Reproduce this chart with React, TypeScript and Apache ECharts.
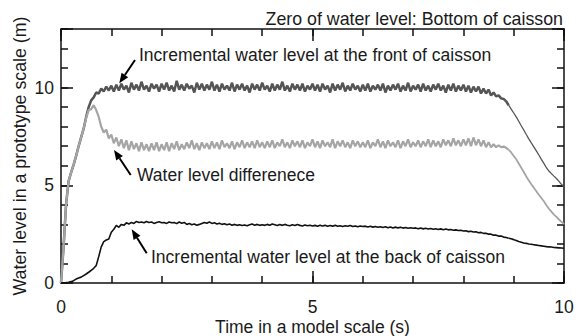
import React, { useEffect, useRef } from "react";
import * as echarts from "echarts";

// Sampling step of the digitised records (s)
const TIME_STEP = 0.05;
// Time after which the records become smooth (s)
const SMOOTH_FROM = 8.9;

// Incremental water level at the front of caisson (m), t = 0 .. 10 s
const frontLevel = [
  0, 1.8, 4.0, 5.2, 5.65, 6.05, 6.5, 7.0, 7.45, 7.9, 8.5, 9.0, 9.35, 9.5, 9.75, 9.7, 9.95, 9.8, 10.05, 9.85, 10.1,
  9.8, 10.15, 9.85, 10.2, 9.9, 10.1, 9.75, 10.25, 9.9, 10.15, 9.85, 10.3, 9.9, 10.1, 9.8, 10.2, 9.95, 10.15, 9.8, 10.2,
  9.9, 10.25, 9.85, 10.1, 9.8, 10.35, 9.9, 10.15, 9.85, 10.2, 9.95, 10.1, 9.75, 10.25, 9.9, 10.2, 9.85, 10.15, 9.9, 10.3,
  9.85, 10.15, 9.8, 10.2, 9.9, 10.1, 9.85, 10.25, 9.8, 10.15, 9.9, 10.2, 9.85, 10.1, 9.75, 10.2, 9.9, 10.15, 9.85, 10.25,
  9.9, 10.1, 9.8, 10.2, 9.85, 10.15, 9.9, 10.3, 9.85, 10.1, 9.8, 10.2, 9.9, 10.15, 9.85, 10.2, 9.8, 10.1, 9.9, 10.2,
  9.85, 10.15, 9.8, 10.2, 9.9, 10.1, 9.75, 10.2, 9.85, 10.15, 9.9, 10.25, 9.8, 10.1, 9.85, 10.2, 9.9, 10.1, 9.8, 10.15,
  9.85, 10.2, 9.8, 10.1, 9.9, 10.15, 9.85, 10.2, 9.75, 10.1, 9.85, 10.15, 9.9, 10.2, 9.8, 10.1, 9.85, 10.25, 9.8, 10.1,
  9.9, 10.15, 9.8, 10.2, 9.85, 10.1, 9.8, 10.15, 9.9, 10.2, 9.85, 10.1, 9.75, 10.15, 9.85, 10.2, 9.8, 10.1, 9.85, 10.15,
  9.8, 10.1, 9.75, 10.05, 9.8, 10.05, 9.7, 9.95, 9.7, 9.9, 9.6, 9.75, 9.55, 9.6, 9.45, 9.42, 9.3, 9.1, 8.9, 8.7,
  8.5, 8.28, 8.05, 7.83, 7.6, 7.38, 7.17, 6.97, 6.76, 6.55, 6.33, 6.12, 5.9, 5.73, 5.6, 5.47, 5.35, 5.2, 5.05, 4.92,
];

// Water level difference (m)
const differenceLevel = [
  0, 1.8, 4.0, 5.2, 5.65, 6.05, 6.5, 7.0, 7.45, 7.9, 8.45, 8.85, 8.9, 9.1, 8.85, 8.5, 8.0, 7.7, 7.85, 7.4, 7.6,
  7.15, 7.45, 7.0, 7.35, 6.9, 7.3, 6.8, 7.25, 6.85, 7.15, 6.75, 7.2, 6.8, 7.1, 6.75, 7.15, 6.8, 7.2, 6.75, 7.1,
  6.8, 7.2, 6.75, 7.15, 6.85, 7.25, 6.8, 7.1, 6.85, 7.2, 6.9, 7.3, 6.85, 7.15, 6.8, 7.2, 6.9, 7.15, 6.85, 7.25,
  6.9, 7.2, 6.85, 7.3, 6.95, 7.15, 6.9, 7.25, 6.85, 7.2, 6.95, 7.3, 6.9, 7.2, 6.95, 7.25, 6.9, 7.3, 6.95, 7.2,
  6.9, 7.25, 6.95, 7.3, 6.9, 7.2, 7.0, 7.35, 6.95, 7.2, 6.9, 7.3, 7.0, 7.25, 6.95, 7.3, 6.9, 7.2, 7.0, 7.35,
  6.95, 7.25, 6.9, 7.3, 7.0, 7.2, 6.95, 7.35, 6.9, 7.25, 7.0, 7.3, 6.95, 7.2, 6.9, 7.3, 7.0, 7.25, 6.95, 7.2,
  6.95, 7.3, 6.9, 7.2, 7.0, 7.35, 6.95, 7.25, 6.9, 7.3, 7.0, 7.2, 6.95, 7.3, 6.9, 7.25, 7.0, 7.35, 6.95, 7.2,
  7.0, 7.3, 6.95, 7.25, 7.0, 7.35, 6.95, 7.3, 7.0, 7.25, 6.95, 7.35, 7.05, 7.3, 7.0, 7.4, 7.05, 7.3, 7.0, 7.35,
  7.05, 7.4, 7.0, 7.45, 7.05, 7.35, 7.0, 7.3, 6.95, 7.2, 6.95, 7.1, 6.95, 7.05, 6.95, 6.98, 6.92, 6.82, 6.68, 6.5,
  6.33, 6.12, 5.9, 5.68, 5.45, 5.25, 5.05, 4.88, 4.7, 4.52, 4.35, 4.18, 3.98, 3.8, 3.65, 3.5, 3.38, 3.25, 3.13, 3.02,
];

// Incremental water level at the back of caisson (m)
const backLevel = [
  0, 0.01, 0.02, 0.04, 0.07, 0.12, 0.2, 0.26, 0.3, 0.38, 0.46, 0.55, 0.65, 0.75, 0.9, 1.35, 1.85, 2.12, 2.2, 2.25, 2.6,
  2.75, 2.95, 2.85, 3.0, 2.95, 3.08, 3.02, 3.1, 3.05, 3.15, 3.1, 3.12, 3.08, 3.15, 3.1, 3.12, 3.05, 3.1, 3.13, 3.08,
  3.1, 3.05, 3.12, 3.08, 3.1, 3.04, 3.12, 3.06, 3.1, 3.0, 3.05, 2.98, 3.02, 2.96, 3.0, 3.05, 3.1, 3.06, 3.12, 3.05,
  3.08, 3.02, 3.06, 3.0, 3.03, 2.98, 3.02, 2.96, 3.0, 2.95, 2.98, 2.94, 2.97, 2.93, 2.98, 3.02, 2.96, 3.0, 2.95, 2.98,
  2.95, 3.0, 2.96, 3.02, 2.98, 2.94, 2.99, 2.95, 3.0, 2.96, 2.93, 2.98, 2.94, 2.99, 2.95, 2.92, 2.97, 2.93, 2.96, 2.92,
  2.95, 2.91, 2.96, 2.92, 2.95, 2.9, 2.94, 2.91, 2.95, 2.9, 2.93, 2.89, 2.93, 2.9, 2.94, 2.89, 2.92, 2.88, 2.92, 2.89,
  2.91, 2.87, 2.9, 2.86, 2.89, 2.85, 2.88, 2.84, 2.88, 2.83, 2.87, 2.82, 2.86, 2.82, 2.85, 2.81, 2.84, 2.8, 2.83, 2.8,
  2.82, 2.78, 2.81, 2.77, 2.8, 2.76, 2.79, 2.75, 2.78, 2.74, 2.77, 2.73, 2.76, 2.72, 2.74, 2.7, 2.72, 2.69, 2.7, 2.66,
  2.67, 2.63, 2.65, 2.61, 2.62, 2.57, 2.59, 2.54, 2.55, 2.5, 2.5, 2.45, 2.45, 2.4, 2.4, 2.35, 2.33, 2.29, 2.26, 2.22,
  2.17, 2.12, 2.09, 2.05, 2.03, 2.0, 1.98, 1.96, 1.94, 1.92, 1.9, 1.88, 1.86, 1.85, 1.84, 1.82, 1.81, 1.8, 1.79, 1.78,
];

const time = frontLevel.map((_, i) => Number((i * TIME_STEP).toFixed(2)));

const xLabelValues = [0, 5, 10];
const yLabelValues = [0, 5, 10];

const xTitle = "Time in a model scale (s)";
const yTitle = "Water level in a prototype scale (m)";
const topNote = "Zero of water level: Bottom of caisson";
const frontNote = "Incremental water level at the front of caisson";
const diffNote = "Water level differenece";
const backNote = "Incremental water level at the back of caisson";

const FONT = "'Liberation Sans', Arial, Helvetica, sans-serif";
const INK = "#1a1a1a";

function arrow(tail: [number, number], tip: [number, number]) {
  const dx = tip[0] - tail[0];
  const dy = tip[1] - tail[1];
  const len = Math.hypot(dx, dy);
  const ux = dx / len;
  const uy = dy / len;
  const headLen = 10;
  const half = 4;
  const bx = tip[0] - ux * headLen;
  const by = tip[1] - uy * headLen;
  const nx = -uy;
  const ny = ux;
  return [
    {
      type: "line",
      shape: { x1: tail[0], y1: tail[1], x2: bx, y2: by },
      style: { stroke: "#000", lineWidth: 2 },
    },
    {
      type: "polygon",
      shape: {
        points: [
          [tip[0], tip[1]],
          [bx + nx * half, by + ny * half],
          [bx - nx * half, by - ny * half],
        ],
      },
      style: { fill: "#000" },
    },
  ];
}

function noteText(text: string, x: number, y: number, align: string = "left", size: number = 17.5) {
  return {
    type: "text",
    x,
    y,
    style: {
      text,
      fill: INK,
      fontSize: size,
      fontFamily: FONT,
      align,
      verticalAlign: "middle",
    },
  };
}

export default function App() {
  const ref = useRef<HTMLDivElement>(null);

  useEffect(() => {
    if (!ref.current) return;
    const chart = echarts.init(ref.current, null, { renderer: "svg" });

    const axisLineStyle = { color: "#111", width: 1.5 };
    const minorTick = { show: true, inside: true, length: 7, lineStyle: { color: "#111", width: 1.5 } };
    const majorTick = { show: true, inside: true, length: 12, lineStyle: { color: "#111", width: 1.5 } };
    const noLabel = { show: false };
    const lineOn = { show: true, onZero: false, lineStyle: axisLineStyle };
    const lineOff = { show: false, onZero: false };

    const xBase = { type: "value", min: 0, max: 10, splitLine: { show: false } };
    const yBase = { type: "value", min: 0, max: 13, splitLine: { show: false } };

    const defs = [
      { name: "front", values: frontLevel, color: "#555555", noisyWidth: 2.5, smoothWidth: 1.3 },
      { name: "difference", values: differenceLevel, color: "#a5a5a5", noisyWidth: 2.2, smoothWidth: 1.8 },
      { name: "back", values: backLevel, color: "#111111", noisyWidth: 1.6, smoothWidth: 1.6 },
    ];

    const series: any[] = [];
    defs.forEach((s, k) => {
      const pts = time.map((t, i) => [t, s.values[i]]);
      const parts = [
        { data: pts.filter((p) => p[0] <= SMOOTH_FROM), width: s.noisyWidth },
        { data: pts.filter((p) => p[0] >= SMOOTH_FROM), width: s.smoothWidth },
      ];
      parts.forEach((part) => {
        series.push({
          type: "line",
          name: s.name,
          xAxisIndex: 0,
          yAxisIndex: 0,
          showSymbol: false,
          symbol: "none",
          z: 2 + k,
          data: part.data,
          lineStyle: { color: s.color, width: part.width },
          itemStyle: { color: s.color },
        });
      });
    });

    chart.setOption({
      animation: false,
      backgroundColor: "#ffffff",
      grid: { left: 61, right: 12, top: 29, bottom: 53, containLabel: false, outerBoundsMode: "none" },
      xAxis: [
        {
          ...xBase,
          position: "bottom",
          interval: 1,
          axisLine: lineOn,
          axisTick: minorTick,
          axisLabel: {
            show: true,
            margin: 15,
            fontSize: 17.5,
            fontFamily: FONT,
            color: INK,
            formatter: (v: number) => (xLabelValues.includes(v) ? String(v) : ""),
          },
          name: xTitle,
          nameLocation: "middle",
          nameGap: 35,
          nameMoveOverlap: false,
          nameTextStyle: { fontSize: 17.5, fontFamily: FONT, color: INK },
        },
        { ...xBase, position: "bottom", interval: 5, axisLine: lineOff, axisTick: majorTick, axisLabel: noLabel },
        { ...xBase, position: "top", interval: 1, axisLine: lineOn, axisTick: minorTick, axisLabel: noLabel },
        { ...xBase, position: "top", interval: 5, axisLine: lineOff, axisTick: majorTick, axisLabel: noLabel },
      ],
      yAxis: [
        {
          ...yBase,
          position: "left",
          interval: 1,
          axisLine: lineOn,
          axisTick: minorTick,
          axisLabel: {
            show: true,
            margin: 7,
            fontSize: 17.5,
            fontFamily: FONT,
            color: INK,
            formatter: (v: number) => (yLabelValues.includes(v) ? String(v) : ""),
          },
          name: yTitle,
          nameLocation: "middle",
          nameGap: 32,
          nameMoveOverlap: false,
          nameTextStyle: { fontSize: 17.8, fontFamily: FONT, color: INK },
        },
        { ...yBase, position: "left", interval: 5, axisLine: lineOff, axisTick: majorTick, axisLabel: noLabel },
        { ...yBase, position: "right", interval: 1, axisLine: lineOn, axisTick: minorTick, axisLabel: noLabel },
        { ...yBase, position: "right", interval: 5, axisLine: lineOff, axisTick: majorTick, axisLabel: noLabel },
      ],
      series,
      graphic: [
        noteText(topNote, 563, 19, "right", 17.8),
        noteText(frontNote, 139, 55),
        noteText(diffNote, 137, 175),
        noteText(backNote, 151, 257),
        ...arrow([135, 60], [119.3, 83.3]),
        ...arrow([130.7, 175], [114, 150]),
        ...arrow([146.7, 253.3], [131.7, 229.3]),
      ],
    });

    return () => chart.dispose();
  }, []);

  return <div ref={ref} style={{ width: 576, height: 336, position: "absolute", left: 0, top: 0 }} />;
}
